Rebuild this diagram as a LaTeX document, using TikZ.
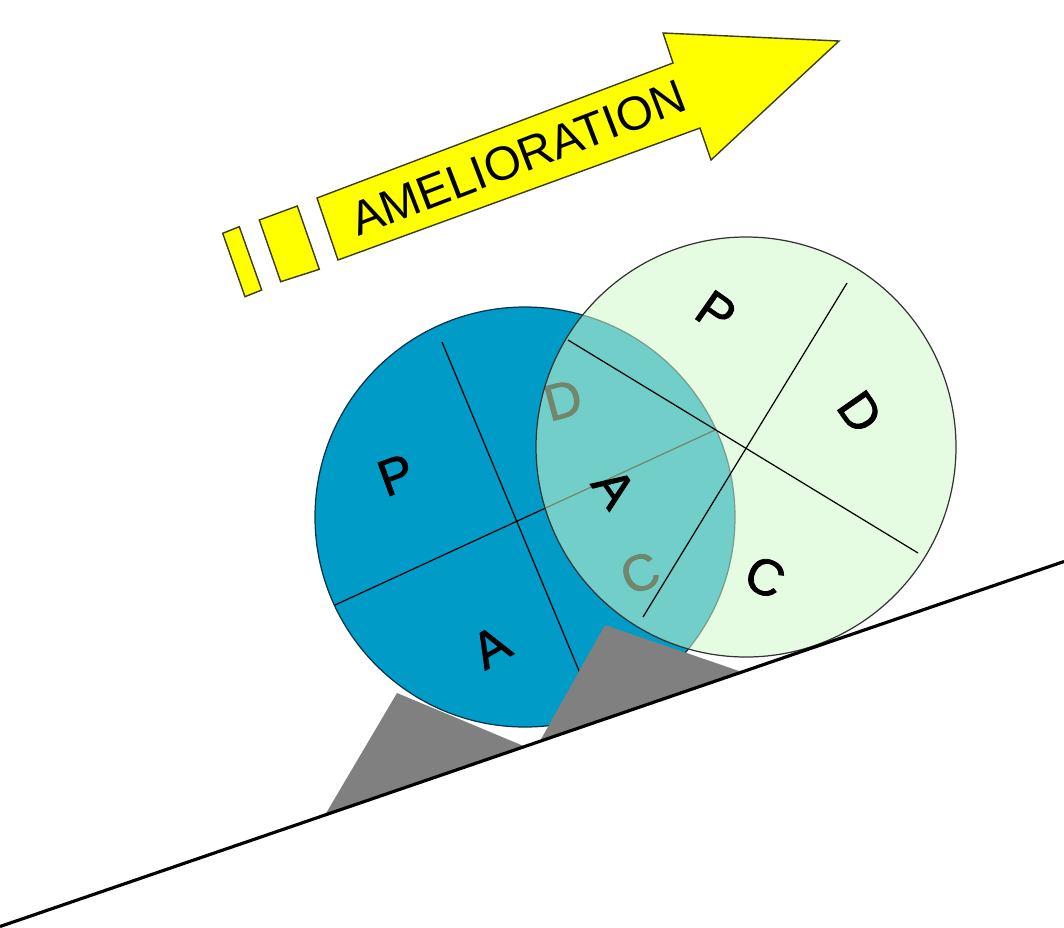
\documentclass[tikz,border=0pt]{standalone}
\usepackage{fontspec}
\setmainfont{Liberation Sans}
\newfontfamily\wheelfont{Liberation Sans}[FakeBold=1.6]
\definecolor{wheelblue}{RGB}{0,155,199}
\definecolor{wheelgreen}{RGB}{209,250,201}
\definecolor{shadegray}{RGB}{128,128,128}
\definecolor{arrowyellow}{RGB}{255,255,0}
\definecolor{edgeolive}{RGB}{60,60,20}
\definecolor{blueedge}{RGB}{10,50,70}
\begin{document}
\begin{tikzpicture}[x=0.02cm,y=-0.02cm,
  letter/.style={font=\wheelfont\fontsize{29}{29}\selectfont, inner sep=0pt},
  arrowshape/.style={fill=arrowyellow, draw=edgeolive, line width=0.8pt, line join=miter},
  divider/.style={draw=black, line width=0.7pt},
  wedge/.style={fill=shadegray}]
\useasboundingbox (0,0) rectangle (1064,927);

% wedge behind the blue wheel
\fill[wedge] (325,815) -- (397,693) -- (526,747) -- cycle;

% blue wheel
\fill[wheelblue] (525,517) circle (210);
\draw[blueedge, line width=0.7pt] (525,517) circle (210);
\coordinate (b1s) at (442,342);
\coordinate (b1e) at (592,702);
\coordinate (b2s) at (335,605);
\coordinate (b2e) at (715,430);
\draw[divider] (b1s) -- (b1e);
\draw[divider] (b2s) -- (b2e);
\node[letter, rotate=20] (bP) at (396,475) {P};
\node[letter, rotate=30] (bA) at (491,647) {A};
\node[letter, rotate=15] (bD) at (563,400) {D};
\node[letter, rotate=20] (bC) at (640,573) {C};

% wedge in front of the blue wheel, behind the green wheel
\begin{scope}
  \clip (540,741) -- (605,625) -- (742,672) -- cycle;
  \fill[wedge, even odd rule] (0,0) rectangle (1064,927) (746,447) circle (210);
\end{scope}

% green wheel (see-through)
\fill[wheelgreen, fill opacity=0.54] (746,447) circle (210);
\draw[black!80, line width=0.7pt] (746,447) circle (210);
\coordinate (g1s) at (568,340);
\coordinate (g1e) at (918,553);
\coordinate (g2s) at (847,283);
\coordinate (g2e) at (643,617);
\draw[divider] (g1s) -- (g1e);
\draw[divider] (g2s) -- (g2e);
\node[letter, rotate=-35] (gP) at (716,312) {P};
\node[letter, rotate=-55] (gD) at (860,412) {D};
\node[letter, rotate=-25] (gC) at (765,577) {C};
\node[letter, rotate=-55] (gA) at (614,488) {A};

% ground line
\coordinate (gl) at (0,926.5);
\coordinate (gr) at (1064,561.5);
\draw[black, line width=1.8pt] (gl) -- (gr);

% improvement arrow
\draw[arrowshape] (317,198) -- (673,63) -- (663,33) -- (839,41) -- (711,160) -- (700,128) -- (338,260) -- cycle;
\draw[arrowshape] (222.7,233.3) -- (239.3,226.7) -- (261.7,290) -- (245,296.7) -- cycle;
\draw[arrowshape] (259.3,220) -- (297.3,206) -- (319.3,269.3) -- (280.7,281.7) -- cycle;
\node[font=\fontsize{27}{27}\selectfont, rotate=21, inner sep=0pt] (amel) at (518,158) {AMELIORATION};
\end{tikzpicture}
\end{document}
